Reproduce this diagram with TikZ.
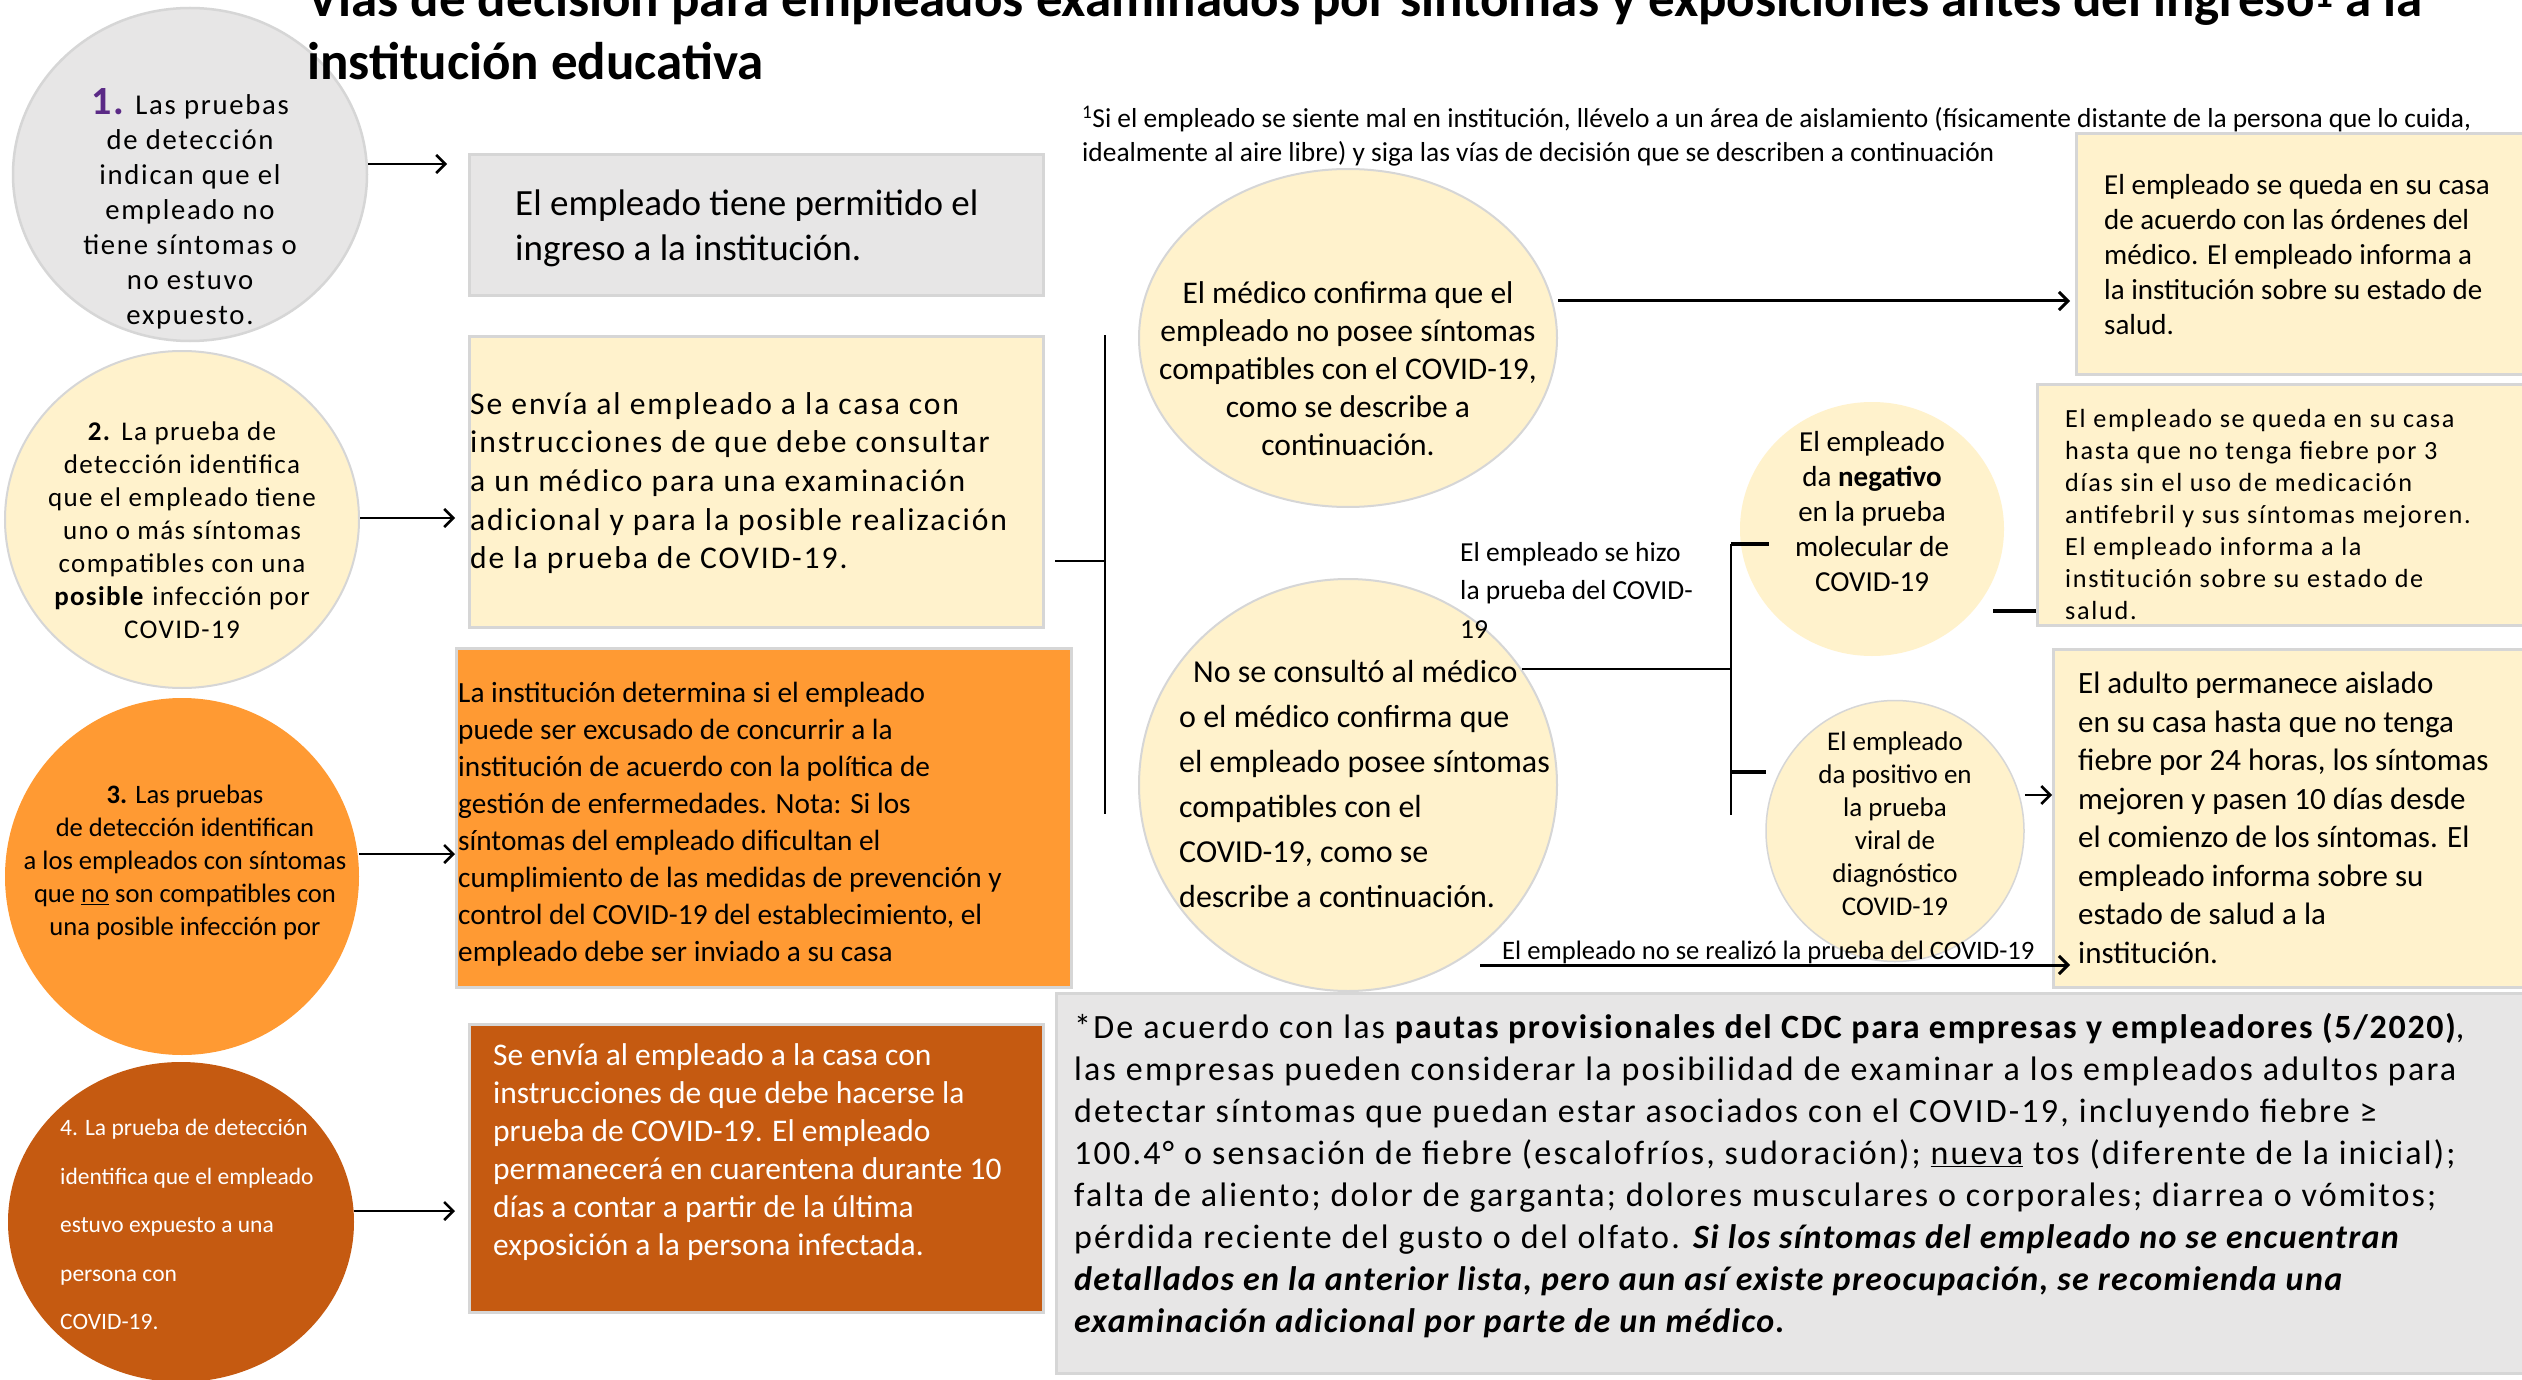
\documentclass[tikz,border=0pt]{standalone}
\usepackage{fontspec}
\setmainfont{Carlito}
\newfontfamily\lsfont{Carlito}[LetterSpace=5]
\newfontfamily\lsfontb{Carlito}[LetterSpace=6.5]
\newfontfamily\lsfontc{Carlito}[LetterSpace=4]
\newfontfamily\lsfontd{Carlito}[LetterSpace=6]
\usetikzlibrary{shapes.geometric,arrows.meta}
\definecolor{gbox}{HTML}{E7E6E6}
\definecolor{ybox}{HTML}{FFF2CC}
\definecolor{obox}{HTML}{FF9A33}
\definecolor{dbox}{HTML}{C55A11}
\definecolor{bord}{HTML}{D6D6D6}
\definecolor{numpurple}{HTML}{5B2A86}
\newcommand\fsz[2]{\fontsize{#1}{#2}\selectfont}
\begin{document}
\begin{tikzpicture}[x=1pt,y=-1pt,
  boxn/.style={draw=bord, line width=3pt, inner sep=0pt, anchor=north west},
  elln/.style={ellipse, inner sep=0pt},
  txtl/.style={inner sep=0pt, align=left, anchor=north west},
  txtc/.style={inner sep=0pt, align=center, anchor=north},
  arr/.style={-{Straight Barb[length=9pt,width=18pt]}, line width=2.5pt},
  thinln/.style={line width=1.5pt},
  tickln/.style={line width=3.5pt}]
\useasboundingbox (0,0) rectangle (2522,1380);
\fill[white] (0,0) rectangle (2522,1380);

% ---------- left column ----------
\node[elln, fill=gbox, draw=bord, line width=2.5pt, minimum width=354pt, minimum height=333pt] (c1) at (190,174.5) {};
\node[txtc, font=\lsfontd\fsz{28.7}{35}] (t1) at (190,88)
  {\textcolor{numpurple}{\fsz{40}{35}\bfseries 1.} Las pruebas\\de detección\\indican que el\\empleado no\\tiene síntomas o\\no estuvo\\expuesto.};

\node[elln, fill=ybox, draw=bord, line width=2pt, minimum width=354pt, minimum height=337pt] (c2) at (182,519.5) {};
\node[txtc, font=\lsfont\fsz{27}{33}] (t2) at (182,422)
  {\textbf{2.} La prueba de\\detección identifica\\que el empleado tiene\\uno o más síntomas\\compatibles con una\\\textbf{posible} infección por\\COVID-19};

\node[elln, fill=obox, minimum width=354pt, minimum height=357pt] (c3) at (182,876.5) {};
\node[txtc, font=\fsz{26.6}{33}] (t3) at (185,785)
  {\textbf{3.} Las pruebas\\de detección identifican\\a los empleados con síntomas\\que \underline{no} son compatibles con\\una posible infección por};

\node[elln, fill=dbox, minimum width=346pt, minimum height=320pt] (c4) at (181,1222) {};
\node[txtl, text=white, font=\fsz{23.5}{48.5}] (t4) at (60,1119)
  {4. La prueba de detección\\identifica que el empleado\\estuvo expuesto a una\\persona con\\COVID-19.};

% ---------- second column boxes ----------
\node[boxn, fill=gbox, minimum width=574pt, minimum height=141pt] (b1) at (468,153) {};
\node[txtl, font=\fsz{37}{45}] (tb1) at (515,190)
  {El empleado tiene permitido el\\ingreso a la institución.};

\node[boxn, fill=ybox, minimum width=574pt, minimum height=291pt] (b2) at (468,335) {};
\node[txtl, font=\lsfontd\fsz{31.6}{38.7}] (tb2) at (470,392)
  {Se envía al empleado a la casa con\\instrucciones de que debe consultar\\a un médico para una examinación\\adicional y para la posible realización\\de la prueba de COVID-19.};

\node[boxn, fill=obox, minimum width=615pt, minimum height=339pt] (b3) at (455,647) {};
\node[txtl, font=\fsz{29.3}{37}] (tb3) at (458,682)
  {La institución determina si el empleado\\puede ser excusado de concurrir a la\\institución de acuerdo con la política de\\gestión de enfermedades. Nota: Si los\\síntomas del empleado dificultan el\\cumplimiento de las medidas de prevención y\\control del COVID-19 del establecimiento, el\\empleado debe ser inviado a su casa};

\node[boxn, fill=dbox, minimum width=574pt, minimum height=288pt] (b4) at (468,1023) {};
\node[txtl, text=white, font=\fsz{31.5}{38}] (tb4) at (493,1043)
  {Se envía al empleado a la casa con\\instrucciones de que debe hacerse la\\prueba de COVID-19. El empleado\\permanecerá en cuarentena durante 10\\días a contar a partir de la última\\exposición a la persona infectada.};

% left arrows
\coordinate (a1e) at (447,164);
\coordinate (a2e) at (455,518);
\coordinate (a3e) at (455,854);
\coordinate (a4e) at (455,1211);
\draw[arr] (c1.east |- a1e) -- (a1e);
\draw[arr] (c2.east |- a2e) -- (a2e);
\draw[arr] (c3.east |- a3e) -- (a3e);
\draw[arr] (c4.east |- a4e) -- (a4e);

% bracket
\coordinate (brkL) at (1055,561);
\coordinate (brkM) at (1105,561);
\coordinate (brkT) at (1105,335);
\coordinate (brkB) at (1105,814);
\draw[thinln] (brkL) -- (brkM);
\draw[thinln] (brkT) -- (brkB);

% ---------- footnote ----------
\node[txtl, font=\fsz{27.4}{34}] (fn) at (1082,106)
  {\textsuperscript{1}Si el empleado se siente mal en institución, llévelo a un área de aislamiento (físicamente distante de la persona que lo cuida,\\idealmente al aire libre) y siga las vías de decisión que se describen a continuación};

% ---------- right part ----------
\node[elln, fill=ybox, draw=bord, line width=2pt, minimum width=418pt, minimum height=338pt] (cA) at (1348,338) {};
\node[txtc, font=\fsz{31.5}{38}] (tA) at (1348,281)
  {El médico confirma que el\\empleado no posee síntomas\\compatibles con el COVID-19,\\como se describe a\\continuación.};

\node[boxn, fill=ybox, minimum width=480pt, minimum height=241pt] (bA) at (2075,132) {};
\node[txtl, font=\fsz{29}{35}] (tbA) at (2104,174)
  {El empleado se queda en su casa\\de acuerdo con las órdenes del\\médico. El empleado informa a\\la institución sobre su estado de\\salud.};

\coordinate (aAe) at (2070,301);
\draw[arr, line width=3pt] (cA.east |- aAe) -- (aAe);

\node[elln, fill=ybox, draw=bord, line width=2pt, minimum width=418pt, minimum height=412pt] (cB) at (1348,785) {};
\node[txtl, font=\fsz{32}{45}] (tB) at (1179,660)
  {\hspace*{14pt}No se consultó al médico\\o el médico confirma que\\el empleado posee síntomas\\compatibles con el\\COVID-19, como se\\describe a continuación.};

\node[txtl, font=\fsz{27.5}{38.5}] (lhizo) at (1460,542)
  {El empleado se hizo\\la prueba del COVID-\\19};

\node[elln, fill=ybox, minimum width=264pt, minimum height=254pt] (cC) at (1872,529) {};
\node[txtc, font=\fsz{29}{35}] (tC) at (1872,431)
  {El empleado\\da \textbf{negativo}\\en la prueba\\molecular de\\COVID-19};

\node[boxn, fill=ybox, minimum width=520pt, minimum height=241pt] (bC) at (2036,383) {};
\node[txtl, font=\lsfontb\fsz{26.2}{32}] (tbC) at (2065,409)
  {El empleado se queda en su casa\\hasta que no tenga fiebre por 3\\días sin el uso de medicación\\antifebril y sus síntomas mejoren.\\El empleado informa a la\\institución sobre su estado de\\salud.};

\node[elln, fill=ybox, draw=bord, line width=1.5pt, minimum width=258pt, minimum height=261pt] (cD) at (1895,831) {};
\node[txtc, font=\fsz{27}{33}] (tD) at (1895,732)
  {El empleado\\da positivo en\\la prueba\\viral de\\diagnóstico\\COVID-19};

\node[boxn, fill=ybox, minimum width=500pt, minimum height=338pt] (bD) at (2052,648) {};
\node[txtl, font=\fsz{31}{38.5}] (tbD) at (2078,672)
  {El adulto permanece aislado\\en su casa hasta que no tenga\\fiebre por 24 horas, los síntomas\\mejoren y pasen 10 días desde\\el comienzo de los síntomas. El\\empleado informa sobre su\\estado de salud a la\\institución.};

% connectors of the right part
\coordinate (bLs) at (1522,669);
\coordinate (vT) at (1731,544);
\coordinate (vB) at (1731,815);
\coordinate (vJ) at (1731,669);
\coordinate (vTe) at (1769,544);
\coordinate (vL) at (1731,772);
\coordinate (vLe) at (1766,772);
\draw[thinln] (bLs) -- (vJ);
\draw[thinln] (vT) -- (vB);
\draw[tickln] (vT) -- (vTe);
\draw[tickln] (vL) -- (vLe);

\coordinate (tCs) at (1993,611);
\draw[tickln] (tCs) -- (bC.west |- tCs);

\coordinate (aDe) at (2052,795);
\draw[arr] (cD.east |- aDe) -- (aDe);

\coordinate (nrS) at (1480,965);
\coordinate (nrE) at (2070,965);
\draw[arr, line width=3pt] (nrS) -- (nrE);
\node[inner sep=0pt, anchor=base west, font=\fsz{26.6}{32}] (lnr) at (1502,959)
  {El empleado no se realizó la prueba del COVID-19};

% ---------- bottom note ----------
\node[boxn, fill=gbox, minimum width=1480pt, minimum height=380pt] (bN) at (1055,992) {};
\node[txtl, font=\lsfontb\fsz{34}{42}] (tN) at (1074,1013)
  {*De acuerdo con las {\lsfont\bfseries pautas provisionales del CDC para empresas y empleadores (5/2020)},\\las empresas pueden considerar la posibilidad de examinar a los empleados adultos para\\detectar síntomas que puedan estar asociados con el COVID-19, incluyendo fiebre ≥\\100.4° o sensación de fiebre (escalofríos, sudoración); \underline{nueva} tos (diferente de la inicial);\\falta de aliento; dolor de garganta; dolores musculares o corporales; diarrea o vómitos;\\pérdida reciente del gusto o del olfato. {\lsfontc\bfseries\itshape Si los síntomas del empleado no se encuentran}\\{\lsfontc\bfseries\itshape detallados en la anterior lista, pero aun así existe preocupación, se recomienda una}\\{\lsfontc\bfseries\itshape examinación adicional por parte de un médico.}};

% ---------- title (on top) ----------
\node[inner sep=0pt, anchor=base west, font=\fsz{53}{63}\bfseries] (title1) at (307,17)
  {Vías de decisión para empleados examinados por síntomas y exposiciones antes del ingreso\textsuperscript{1} a la};
\node[inner sep=0pt, anchor=base west, font=\fsz{53}{63}\bfseries] (title2) at (307,80)
  {institución educativa};
\end{tikzpicture}
\end{document}
